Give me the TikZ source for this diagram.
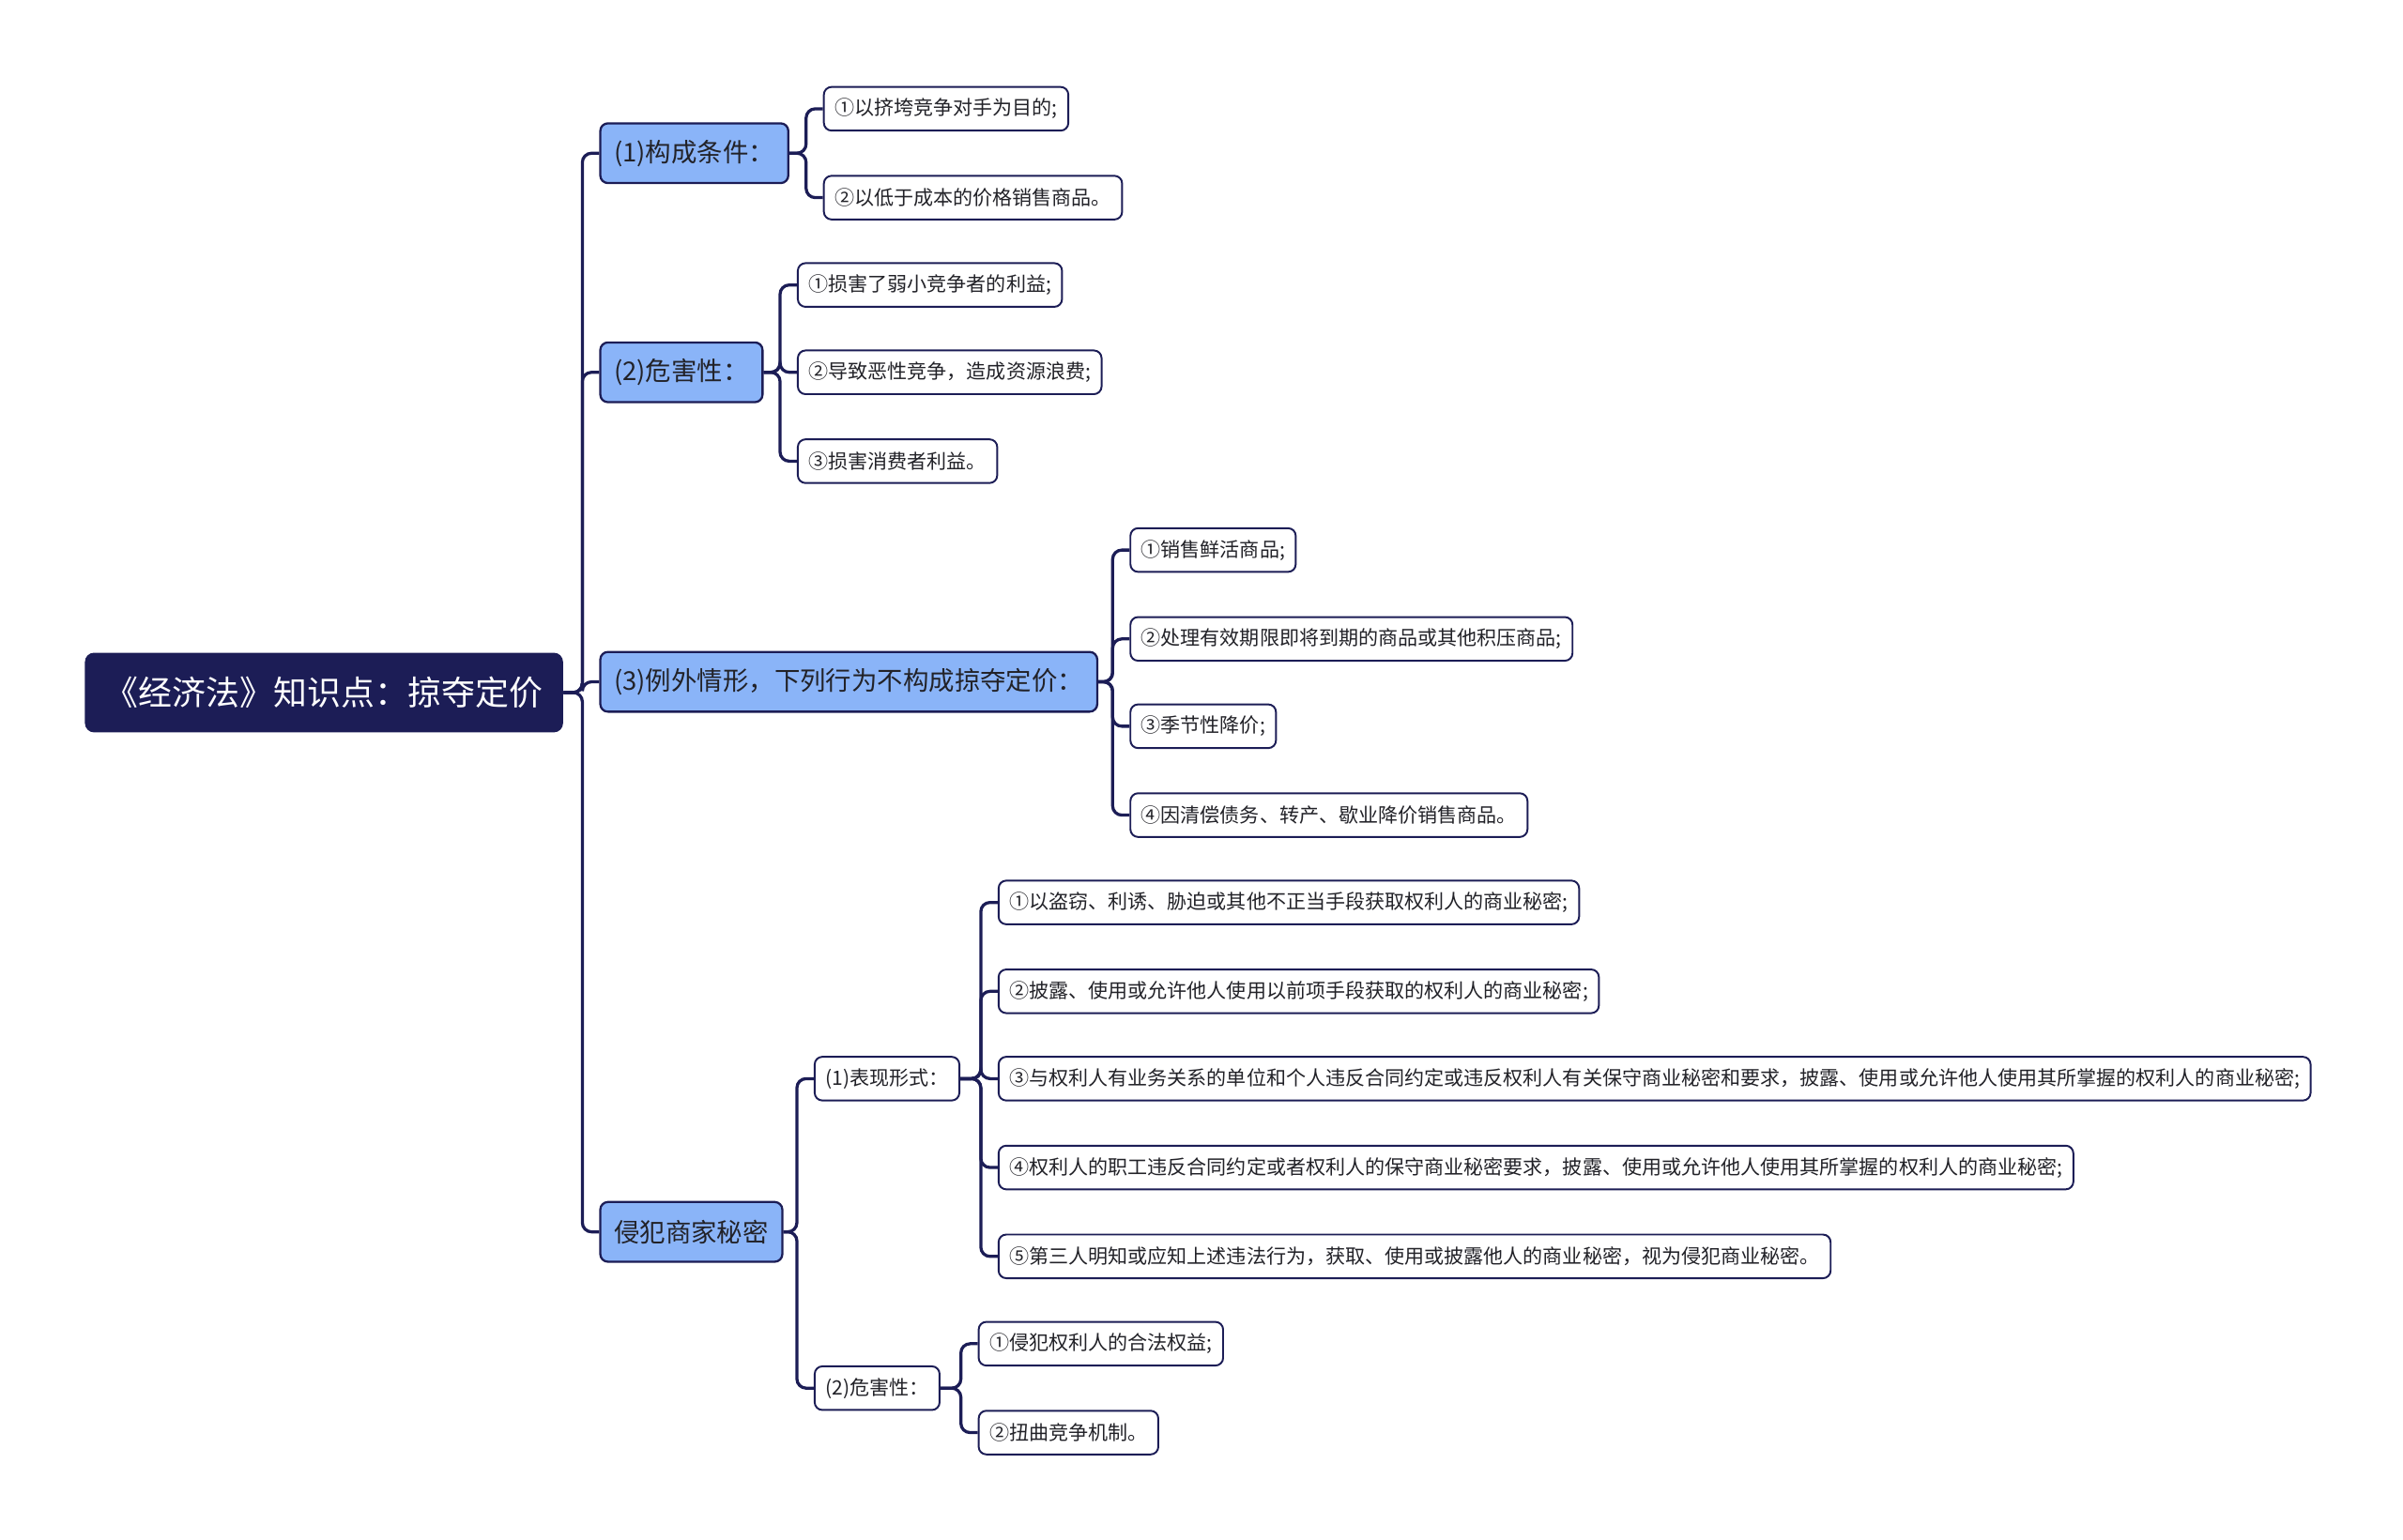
\documentclass[tikz,border=0pt]{standalone}
\usepackage{fontspec}
\setmainfont{Noto Sans CJK SC}
\definecolor{navy}{RGB}{28,29,86}
\definecolor{topicblue}{RGB}{138,180,248}
\definecolor{inkgray}{RGB}{34,34,40}

\begin{document}
\begin{tikzpicture}[x=0.5pt, y=-0.5pt,
    rootbox/.style={fill=navy, text=white, rounded corners=3pt, anchor=west,
        minimum height=26pt, inner xsep=6.5pt, font=\fontsize{11}{13}\selectfont},
    topic/.style={draw=navy, line width=0.7pt, fill=topicblue, text=inkgray,
        rounded corners=2.5pt, anchor=west, minimum height=19.5pt, inner xsep=4.5pt,
        font=\fontsize{8.4}{10}\selectfont},
    leaf/.style={draw=navy, line width=0.6pt, fill=white, text=inkgray,
        rounded corners=2.5pt, anchor=west, minimum height=14.25pt, inner xsep=3.5pt,
        font=\fontsize{6.45}{8}\selectfont},
    link/.style={draw=navy, line width=1pt, rounded corners=3pt}]
    \useasboundingbox (0,0) rectangle (1568,1005);

    % Central topic
    \node[rootbox] (root) at (55,452) {《经济法》知识点：掠夺定价};

    % Main branches
    \node[topic] (a) at (391,100) {(1)构成条件：};
    \node[topic] (b) at (391,243) {(2)危害性：};
    \node[topic, minimum width=161pt] (c) at (391,445) {(3)例外情形，下列行为不构成掠夺定价：};
    \node[topic] (d) at (391,804) {侵犯商家秘密};

    % Constituent conditions
    \node[leaf] (a1) at (537,71)  {①以挤垮竞争对手为目的;};
    \node[leaf] (a2) at (537,129) {②以低于成本的价格销售商品。};

    % Harm
    \node[leaf] (b1) at (520,186) {①损害了弱小竞争者的利益;};
    \node[leaf] (b2) at (520,243) {②导致恶性竞争，造成资源浪费;};
    \node[leaf] (b3) at (520,301) {③损害消费者利益。};

    % Exceptions
    \node[leaf] (c1) at (737,359) {①销售鲜活商品;};
    \node[leaf] (c2) at (737,417) {②处理有效期限即将到期的商品或其他积压商品;};
    \node[leaf] (c3) at (737,474) {③季节性降价;};
    \node[leaf] (c4) at (737,532) {④因清偿债务、转产、歇业降价销售商品。};

    % Trade secrets: forms and harm
    \node[leaf] (d1) at (531,704) {(1)表现形式：};
    \node[leaf] (d2) at (531,906) {(2)危害性：};
    \node[leaf] (d11) at (651,589) {①以盗窃、利诱、胁迫或其他不正当手段获取权利人的商业秘密;};
    \node[leaf] (d12) at (651,647) {②披露、使用或允许他人使用以前项手段获取的权利人的商业秘密;};
    \node[leaf] (d13) at (651,704) {③与权利人有业务关系的单位和个人违反合同约定或违反权利人有关保守商业秘密和要求，披露、使用或允许他人使用其所掌握的权利人的商业秘密;};
    \node[leaf] (d14) at (651,762) {④权利人的职工违反合同约定或者权利人的保守商业秘密要求，披露、使用或允许他人使用其所掌握的权利人的商业秘密;};
    \node[leaf] (d15) at (651,820) {⑤第三人明知或应知上述违法行为，获取、使用或披露他人的商业秘密，视为侵犯商业秘密。};
    \node[leaf] (d21) at (638,877) {①侵犯权利人的合法权益;};
    \node[leaf] (d22) at (638,935) {②扭曲竞争机制。};

    % Elbow connectors, each from a child back to its parent
    \foreach \p/\c in {root/a, root/b, root/c, root/d, a/a1, a/a2, b/b1, b/b2, b/b3,
                       c/c1, c/c2, c/c3, c/c4, d/d1, d/d2,
                       d1/d11, d1/d12, d1/d13, d1/d14, d1/d15, d2/d21, d2/d22}
        \draw[link] (\c.west) -- ++(-11,0) |- (\p.east);
\end{tikzpicture}
\end{document}
